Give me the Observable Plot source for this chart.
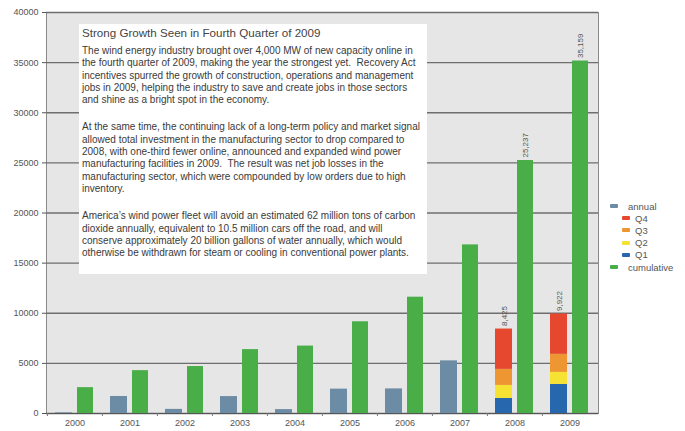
<!DOCTYPE html>
<html>
<head>
<meta charset="utf-8">
<script src="https://cdn.jsdelivr.net/npm/d3@7"></script>
<script src="https://cdn.jsdelivr.net/npm/@observablehq/plot@0.6"></script>
<style>
  html, body { margin: 0; padding: 0; background: #fff; }
  #wrap { position: relative; width: 685px; height: 431px; font-family: "Liberation Sans", Arial, sans-serif; }
  #box { position: absolute; left: 79px; top: 24px; width: 348px; height: 250px; background: #fff; box-sizing: border-box; padding: 2px 0 0 3px; color: #3a3a3a; overflow: hidden; }
  #box .title { font-size: 11.6px; line-height: 14px; color: #444; margin-bottom: 5px; }
  #box p { margin: 0 0 15px 0; font-size: 10px; line-height: 12.3px; white-space: pre; }
  #legend { position: absolute; left: 610px; top: 200px; font-size: 9.5px; color: #555; }
  .li { display: flex; align-items: center; height: 12.2px; }
  .sw { display: inline-block; width: 8px; height: 4px; border-radius: 1px; margin-right: 10px; }
  .ind { padding-left: 12px; }
  .ind .sw { margin-right: 5px; }
</style>
</head>
<body>
<div id="wrap">
  <div id="chart"></div>
  <div id="box"></div>
  <div id="legend"></div>
</div>
<script>
const years = ["2000","2001","2002","2003","2004","2005","2006","2007","2008","2009"];
const annualYears = ["2000","2001","2002","2003","2004","2005","2006","2007"];
const annualValues = [67, 1697, 410, 1687, 389, 2431, 2454, 5249];
const quarterYears = ["2008","2009"];
const q1 = [1500, 2900];
const q2 = [1300, 1200];
const q3 = [1600, 1800];
const q4 = [4025, 4022];
const annualTotals = [8425, 9922];
const cumulativeValues = [2578, 4275, 4685, 6372, 6725, 9149, 11603, 16819, 25237, 35159];
const cumulativeLabels = [25237, 35159];
const yTicks = [0, 5000, 10000, 15000, 20000, 25000, 30000, 35000, 40000];
const seriesNames = ["annual", "Q4", "Q3", "Q2", "Q1", "cumulative"];
const seriesColors = ["#6c8ca6", "#e5482e", "#ee9631", "#f5e233", "#2767ae", "#49ad48"];

const titleText = "Strong Growth Seen in Fourth Quarter of 2009";
const paragraphs = [
  ["The wind energy industry brought over 4,000 MW of new capacity online in",
   "the fourth quarter of 2009, making the year the strongest yet.  Recovery Act",
   "incentives spurred the growth of construction, operations and management",
   "jobs in 2009, helping the industry to save and create jobs in those sectors",
   "and shine as a bright spot in the economy."],
  ["At the same time, the continuing lack of a long-term policy and market signal",
   "allowed total investment in the manufacturing sector to drop compared to",
   "2008, with one-third fewer online, announced and expanded wind power",
   "manufacturing facilities in 2009.  The result was net job losses in the",
   "manufacturing sector, which were compounded by low orders due to high",
   "inventory."],
  ["America\u2019s wind power fleet will avoid an estimated 62 million tons of carbon",
   "dioxide annually, equivalent to 10.5 million cars off the road, and will",
   "conserve approximately 20 billion gallons of water annually, which would",
   "otherwise be withdrawn for steam or cooling in conventional power plants."]
];

// build tables
const annualRows = annualYears.map((y, i) => ({year: y, series: "annual", value: annualValues[i]}));
quarterYears.forEach((y, i) => {
  annualRows.push({year: y, series: "Q1", value: q1[i]});
  annualRows.push({year: y, series: "Q2", value: q2[i]});
  annualRows.push({year: y, series: "Q3", value: q3[i]});
  annualRows.push({year: y, series: "Q4", value: q4[i]});
});
const cumRows = years.map((y, i) => ({year: y, series: "cumulative", value: cumulativeValues[i]}));
const annualLabelRows = quarterYears.map((y, i) => ({year: y, value: annualTotals[i]}));
const cumLabelRows = quarterYears.map((y, i) => ({year: y, value: cumulativeLabels[i]}));

const extraAxes = (typeof Plot.axisX === "function") ? [
  Plot.axisX({tickSize: 0, tickPadding: 6}),
  Plot.axisX({tickSize: 3, tickFormat: () => "", dx: -27.6, stroke: "#777"})
] : [];

const chart = Plot.plot({
  width: 685,
  height: 431,
  marginLeft: 46,
  marginRight: 87,
  marginTop: 12,
  marginBottom: 18,
  style: {fontFamily: "'Liberation Sans', Arial, sans-serif", fontSize: "9px", color: "#555", background: "transparent"},
  x: {domain: years, padding: 0, label: null, tickSize: 0, tickPadding: 6},
  y: {domain: [0, 40000], ticks: yTicks, tickFormat: d => String(d), label: null, tickSize: 4, tickPadding: 4},
  color: {domain: seriesNames, range: seriesColors},
  marks: [
    Plot.frame({fill: "#e5e6e5", stroke: "#8a8a8a"}),
    Plot.ruleY(yTicks, {stroke: "#6e6e6e", strokeWidth: 1.3}),
    Plot.barY(annualRows, {x: "year", y: "value", fill: "series", insetLeft: 8, insetRight: 30}),
    Plot.barY(cumRows, {x: "year", y: "value", fill: "series", insetLeft: 30, insetRight: 9}),
    Plot.text(annualLabelRows, {x: "year", y: "value", text: d => d3.format(",")(d.value), rotate: -90, textAnchor: "start", dx: -11, dy: -3, fontSize: 8, fill: "#555"}),
    Plot.text(cumLabelRows, {x: "year", y: "value", text: d => d3.format(",")(d.value), rotate: -90, textAnchor: "start", dx: 10.5, dy: -3, fontSize: 8, fill: "#555"}),
    Plot.ruleY([0], {stroke: "#555", strokeWidth: 1.2}),
    ...extraAxes
  ]
});
document.getElementById("chart").appendChild(chart);

// text box
const box = document.getElementById("box");
const t = document.createElement("div");
t.className = "title";
t.textContent = titleText;
box.appendChild(t);
paragraphs.forEach(lines => {
  const p = document.createElement("p");
  lines.forEach((l, i) => {
    if (i) p.appendChild(document.createElement("br"));
    p.appendChild(document.createTextNode(l));
  });
  box.appendChild(p);
});

// legend
const legend = document.getElementById("legend");
seriesNames.forEach((s, i) => {
  const row = document.createElement("div");
  row.className = "li" + (s.startsWith("Q") ? " ind" : "");
  const sw = document.createElement("span");
  sw.className = "sw";
  sw.style.background = seriesColors[i];
  row.appendChild(sw);
  row.appendChild(document.createTextNode(s));
  legend.appendChild(row);
});
</script>
</body>
</html>
